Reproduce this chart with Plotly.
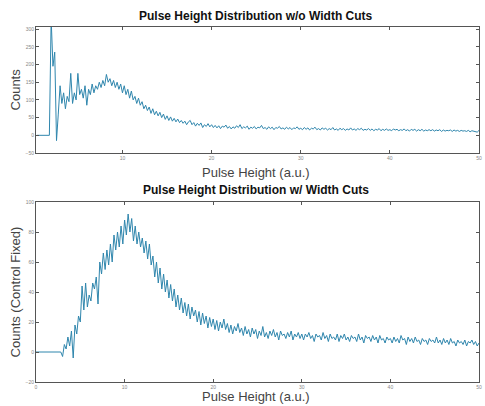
import numpy as np
import plotly.graph_objects as go
from plotly.subplots import make_subplots

# ---- data ----
top_x0 = 0.4
top_step = 0.2
top_counts = [
    0, 0, 0, 0, 0, 0, 0, 0,
    330, 195, 235, -15, 60, 140, 90, 120, 75, 110,
    95, 175, 90, 120, 100, 175, 115, 130, 105, 140,
    85, 130, 115, 145, 120, 140, 130, 150, 135, 155,
    140, 172, 150, 160, 140, 155, 135, 150, 130, 145,
    120, 140, 115, 130, 105, 125, 100, 110, 90, 105,
    85, 95, 75, 85, 70, 80, 62, 75, 58, 68,
    55, 65, 50, 60, 45, 55, 42, 52, 40, 48,
    38, 46, 36, 42, 34, 40, 30, 38, 42, 30,
    36, 26, 34, 28, 35, 22, 30, 25, 33, 24,
    30, 22, 28,
    21, 27, 19, 26, 23, 29, 20, 25, 18, 24,
    20, 27, 22, 30, 19, 24, 21, 26, 17, 23,
    20, 25, 18, 23, 21, 28, 19, 22, 17, 24,
    19, 23, 16, 22, 20, 25, 18, 21, 17, 23,
    18, 22, 16, 21, 19, 24, 17, 20, 16, 22,
    17, 21, 15, 20, 18, 23, 16, 19, 15, 21,
    17, 20, 15, 19, 16, 22, 15, 18, 14, 20,
    16, 19, 14, 18, 15, 21, 15, 18, 14, 19,
    16, 20, 14, 17, 15, 19, 14, 18, 13, 17,
    15, 19, 13, 17, 14, 18, 14, 16, 13, 18,
    15, 17, 13, 16, 14, 18, 13, 16, 12, 17,
    14, 17, 12, 16, 13, 17, 12, 15, 13, 16,
    13, 16, 12, 15, 13, 16, 11, 15, 12, 14,
    13, 15, 11, 15, 12, 14, 11, 14, 12, 13,
    11, 14, 10, 13, 12, 11, 9, 14,
]

bot_x0 = 0.0
bot_step = 0.2
bot_counts = [
    0, 0, 0, 0, 0, 0, 0, 0, 0, 0, 0, 0, 0, 0,
    0, -3, 5, 2, 10, 4, 14, -4, 18, 12,
    24, 20, 44, 28, 46, 30, 38, 34, 46, 42,
    50, 32, 60, 52, 66, 55, 68, 58, 72, 60,
    78, 68, 80, 70, 84, 72, 88, 78, 92, 80,
    89, 74, 84, 72, 80, 70, 76, 66, 74, 62,
    72, 58, 64, 50, 60, 46, 56, 42, 52, 40,
    48, 36, 45, 34, 42, 30, 38, 28, 36, 26,
    33, 24, 32, 22, 30, 24, 28, 20, 27, 18,
    26, 19, 24, 16, 23, 17, 22, 15, 21, 14,
    20, 16, 22, 15, 19, 13, 18, 12, 17, 14,
    19, 13, 16, 11, 17, 12, 15,
    10, 16, 12, 15, 9, 14, 11, 17, 10, 13,
    9, 14, 11, 15, 10, 13, 8, 14, 11, 12,
    9, 13, 10, 14, 8, 12, 10, 13, 9, 12,
    8, 12, 10, 13, 9, 11, 7, 12, 10, 11,
    8, 13, 9, 11, 7, 12, 9, 10, 8, 12,
    7, 11, 9, 12, 8, 10, 7, 11, 9, 10,
    7, 12, 8, 10, 6, 11, 9, 10, 7, 11,
    8, 10, 6, 11, 8, 9, 6, 10, 8, 9,
    6, 10, 7, 9, 6, 11, 8, 9, 5, 10,
    7, 9, 6, 10, 7, 8, 5, 9, 7, 8,
    5, 9, 7, 8, 6, 10, 6, 8, 5, 9,
    6, 8, 5, 9, 6, 7, 4, 8, 6, 7,
    5, 8, 4, 7, 6, 8, 5, 7, 4, 6,
]

top_x = top_x0 + top_step * np.arange(len(top_counts))
bot_x = bot_x0 + bot_step * np.arange(len(bot_counts))

top_title = "Pulse Height Distribution w/o Width Cuts"
bot_title = "Pulse Height Distribution w/ Width Cuts"
x_label = "Pulse Height (a.u.)"
top_ylabel = "Counts"
bot_ylabel = "Counts (Control Fixed)"

line_color = "#2f86ad"

fig = make_subplots(rows=2, cols=1, vertical_spacing=0.0)
fig.add_trace(go.Scatter(x=top_x, y=top_counts, mode="lines",
                         line=dict(color=line_color, width=1), showlegend=False),
              row=1, col=1)
fig.add_trace(go.Scatter(x=bot_x, y=bot_counts, mode="lines",
                         line=dict(color=line_color, width=1), showlegend=False),
              row=2, col=1)

axis_common = dict(showgrid=False, zeroline=False, showline=True, linecolor="#555",
                   linewidth=1, mirror="ticks", ticks="inside", ticklen=3,
                   tickcolor="#555", tickfont=dict(size=5, color="#888"))

fig.update_layout(
    width=485, height=406,
    margin=dict(l=36, r=3, t=27, b=24),
    paper_bgcolor="white", plot_bgcolor="white",
    font=dict(family="Liberation Sans, Arial, sans-serif"),
    xaxis=dict(domain=[0, 1], range=[0.3, 50], tickvals=[10, 20, 30, 40, 50], **axis_common),
    yaxis=dict(domain=[0.645, 1.0], range=[-50, 306],
               tickvals=[-50, 0, 50, 100, 150, 200, 250, 300], **axis_common),
    xaxis2=dict(domain=[0, 1], range=[0, 50], tickvals=[0, 10, 20, 30, 40, 50], **axis_common),
    yaxis2=dict(domain=[0, 0.507], range=[-20, 100],
                tickvals=[-20, 0, 20, 40, 60, 80, 100], **axis_common),
)

ann = [
    dict(text="<b>" + top_title + "</b>", x=0.497, y=1.031, font=dict(size=12, color="#111")),
    dict(text=x_label, x=0.497, y=0.589, font=dict(size=13, color="#444")),
    dict(text="<b>" + bot_title + "</b>", x=0.497, y=0.541, font=dict(size=12, color="#111")),
    dict(text=x_label, x=0.497, y=-0.042, font=dict(size=13, color="#444")),
    dict(text=top_ylabel, x=-0.046, y=0.823, textangle=-90, font=dict(size=13, color="#444")),
    dict(text=bot_ylabel, x=-0.046, y=0.254, textangle=-90, font=dict(size=13, color="#444")),
]
for a in ann:
    fig.add_annotation(xref="paper", yref="paper", showarrow=False,
                       xanchor="center", yanchor="middle", **a)

fig.write_html("out.html")
